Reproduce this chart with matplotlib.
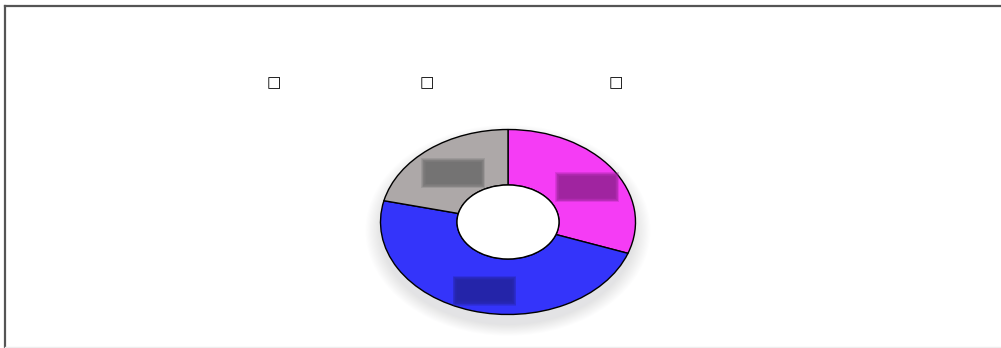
import numpy as np
import matplotlib
matplotlib.use("Agg")
import matplotlib.pyplot as plt
from matplotlib.patches import Ellipse, Rectangle
from matplotlib.lines import Line2D

# ---- data ----
categories = ["A", "B", "C"]
values = [30.5, 48.2, 21.3]
slice_colors = ["#F53CF5", "#3434FA", "#ADA8A8"]
label_colors = ["#962396", "#2424A0", "#6E6E6E"]
legend_labels = ["\u25a1", "\u25a1", "\u25a1"]

W, H = 1001, 348
fig = plt.figure(figsize=(W / 100, H / 100), dpi=100)
fig.patch.set_facecolor("white")
ax = fig.add_axes([0, 0, 1, 1])

cx, cy = 508, H - 222
rx, ry = 127.5, 92.5

# soft shadow
for i in range(14):
    s = 1.0 + 0.009 * i
    ax.add_patch(Ellipse((0.0, -0.09), 2 * s, 2 * s * 1.02, facecolor="#a49cb4",
                         edgecolor="none", alpha=0.018, zorder=1))

wedges, _ = ax.pie(values, colors=slice_colors, startangle=90, counterclock=False,
                   radius=1.0,
                   wedgeprops=dict(width=0.6, edgecolor="black", linewidth=1.0))
for w in wedges:
    w.set_zorder(3)
ax.add_patch(Ellipse((0, 0), 0.8, 0.8, facecolor="white", edgecolor="black",
                     linewidth=1.0, zorder=4))

ax.set_aspect("auto")
ax.set_xlim(-cx / rx, (W - cx) / rx)
ax.set_ylim(-cy / ry, (H - cy) / ry)
ax.axis("off")

# blurred label boxes
bw, bh = 54 / rx, 20 / ry
for w, col in zip(wedges, label_colors):
    ang = np.deg2rad((w.theta1 + w.theta2) / 2)
    x = 0.73 * np.cos(ang) + 3 / rx
    y = 0.73 * np.sin(ang) - 4 / ry
    for k in range(7):
        grow = (7 - k) * 0.7
        ww, hh = bw + 2 * grow / rx, bh + 2 * grow / ry
        ax.add_patch(Rectangle((x - ww / 2, y - hh / 2), ww, hh, facecolor=col,
                               edgecolor="none", alpha=0.26, zorder=5))

# legend-like tofu labels
for px, t in zip([274, 427, 616], legend_labels):
    fig.text(px / W, 1 - 83 / H, t, ha="center", va="center", fontsize=11,
             color="black", family="DejaVu Sans")

# frame lines (top and left)
fig.add_artist(Line2D([5 / W, 1], [1 - 6 / H, 1 - 6 / H], color="#555555",
                      linewidth=1.6, transform=fig.transFigure))
fig.add_artist(Line2D([5 / W, 5 / W], [0, 1 - 6 / H], color="#555555",
                      linewidth=1.6, transform=fig.transFigure))
fig.add_artist(Line2D([5 / W, 1], [1.5 / H, 1.5 / H], color="#eeeeee",
                      linewidth=1.0, transform=fig.transFigure))

fig.savefig("out.png", dpi=100)
